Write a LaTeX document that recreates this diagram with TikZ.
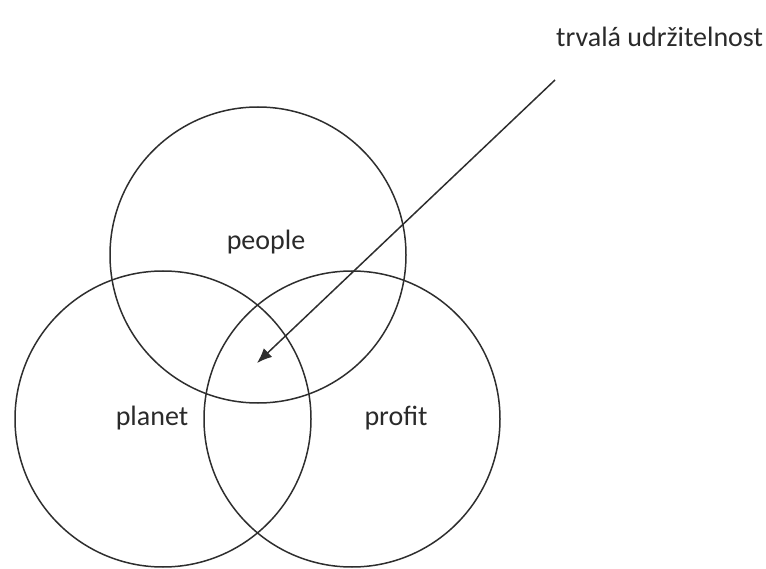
\documentclass[tikz,border=0pt]{standalone}
\usepackage{fontspec}
\setmainfont{Carlito}
\usetikzlibrary{arrows.meta, positioning}
\definecolor{ringgray}{HTML}{2E2E2E}
\definecolor{labelgray}{HTML}{2A2A2A}
\tikzset{
  ring/.style={draw=ringgray, line width=1.5pt, circle, minimum size=296pt,
               inner sep=0pt},
  lbl/.style={font=\fontsize{28}{32}\selectfont, text=labelgray},
  pointer/.style={-{Latex[length=15pt, width=12pt]}, line width=1.5pt, draw=ringgray},
}
\begin{document}
\begin{tikzpicture}[x=1pt, y=-1pt]
  \useasboundingbox (0,0) rectangle (766,569);
  \node[ring] (people) at (258,255) {};
  \node[ring] (planet) at (163,419) {};
  \node[ring] (profit) at (352,419) {};
  \node[lbl] (peopletxt) at (266,242) {people};
  \node[lbl] (planettxt) at (152,418) {planet};
  \node[lbl] (profittxt) at (396,418) {profit};
  \node[lbl, anchor=west, inner sep=0pt] (goal) at (556,37) {trvalá udržitelnost};
  \coordinate (from) at (555,80);
  \coordinate (core) at (257,363);
  \draw[pointer] (from) -- (core);
\end{tikzpicture}
\end{document}
